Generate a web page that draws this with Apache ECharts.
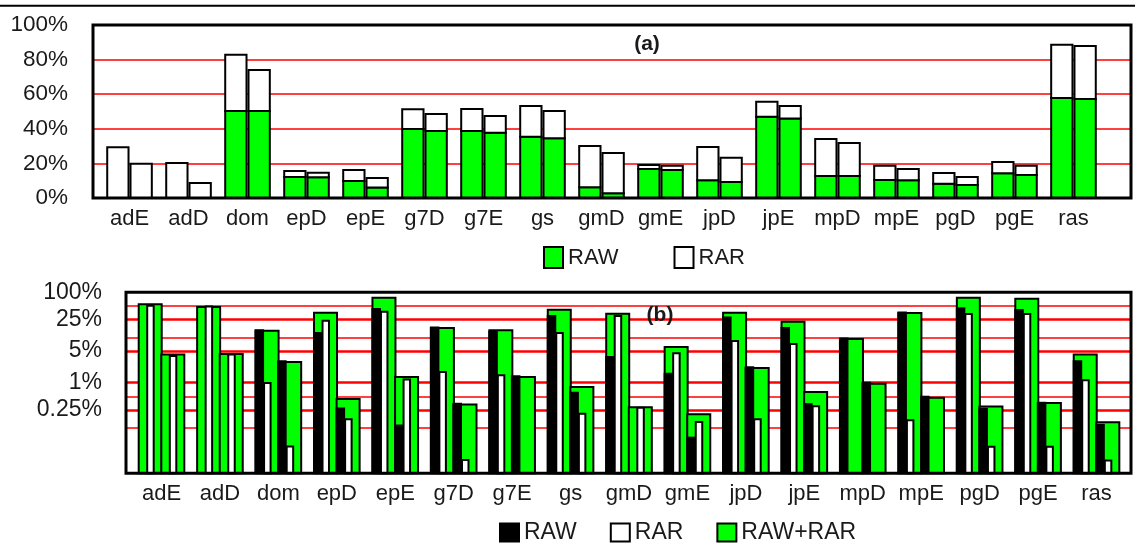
<!DOCTYPE html>
<html><head><meta charset="utf-8">
<script src="https://cdn.jsdelivr.net/npm/echarts@6/dist/echarts.min.js"></script>
<style>html,body{margin:0;padding:0;background:#fff}#c{width:1135px;height:546px}</style>
</head><body><div id="c"></div>
<script>
// ---------- data ----------
const categories = ['adE','adD','dom','epD','epE','g7D','g7E','gs','gmD','gmE','jpD','jpE','mpD','mpE','pgD','pgE','ras'];

// panel (a): stacked bars, two per benchmark (RAW part green, RAR part white, in %)
const rawA1 = [0, 0, 50.3, 12.1, 9.8, 39.9, 38.7, 35.4, 6.2, 16.8, 10.2, 47.0, 12.7, 10.4, 8.3, 14.3, 57.8];
const rarA1 = [29.3, 20.2, 32.5, 3.5, 6.4, 11.4, 12.7, 17.8, 23.8, 2.3, 19.3, 8.7, 21.4, 8.3, 6.2, 6.5, 30.8];
const rawA2 = [0, 0, 50.3, 12.0, 6.0, 38.7, 37.7, 34.5, 2.7, 16.2, 9.2, 46.0, 12.7, 10.3, 7.5, 13.3, 57.2];
const rarA2 = [19.8, 8.7, 23.7, 2.6, 5.6, 9.9, 9.7, 15.8, 23.3, 2.5, 14.1, 7.2, 19.1, 6.5, 4.6, 5.4, 30.7];
const ticksA = [0, 20, 40, 60, 80, 100];

// panel (b): log scale, two groups per benchmark (values in %)
const rawRarB1 = [53.9, 47.0, 14.0, 35.1, 75.5, 16.1, 14.5, 41.2, 33.3, 6.18, 35.1, 22.2, 9.2, 34.6, 75.5, 71.8, 4.19];
const rawB1    = [null, null, 14.5, 12.6, 42.4, 16.6, 13.3, 29.6, 3.71, 1.58, 27.7, 16.1, 9.5, 35.8, 44.0, 40.3, 2.97];
const rarB1    = [50.2, 48.6, 0.98, 23.3, 37.0, 1.72, 1.46, 12.6, 29.6, 4.48, 8.4, 7.2, null, 0.148, 32.8, 32.8, 1.13];
const rawRarB2 = [4.19, 4.32, 2.87, 0.434, 1.33, 0.331, 1.33, 0.80, 0.288, 0.201, 2.11, 0.62, 0.95, 0.466, 0.299, 0.355, 0.134];
const rawB2    = [null, null, 2.97, 0.27, 0.113, 0.342, 1.38, 0.60, null, 0.061, 2.19, 0.336, 1.0, 0.49, 0.265, 0.36, 0.117];
const rarB2    = [3.9, 4.19, 0.039, 0.156, 1.17, 0.0196, null, 0.206, 0.279, 0.136, 0.156, 0.303, null, null, 0.0386, 0.0386, 0.0192];
const tickLabelsB = [100, 25, 5, 1, 0.25];
const gridThickB = [25, 5, 1, 0.25];
const gridThinB = [50, 10, 0.5, 0.1];
const yMinB = 0.01, yMaxB = 100;

// ---------- styles ----------
const GREEN = '#00ff00';
const TXT = '#1a1a1a';
const FONT = '"Liberation Sans", Arial, Helvetica, sans-serif';
const catIdx = categories.map((_, i) => i);

// panel (a) bar renderer
function barA(side, part) {
  return function (params, api) {
    const k = api.value(0), raw = api.value(1), rar = api.value(2);
    const lo = part === 'raw' ? 0 : raw;
    const hi = part === 'raw' ? raw : raw + rar;
    if (!(hi > lo)) return null;
    const t = api.coord([k, hi]), b = api.coord([k, lo]);
    const w = 21.3, cx = t[0] + side * 11.65;
    return {
      type: 'rect',
      shape: { x: cx - w / 2, y: t[1], width: w, height: b[1] - t[1] },
      style: { fill: part === 'raw' ? GREEN : '#fff', stroke: '#000', lineWidth: 2 }
    };
  };
}

// panel (b) bar renderer
const groupLeftB = [-23.8, -1.2];
const kindB = {
  green: { dx: 0, w: 25, fill: GREEN, stroke: true },
  black: { dx: 0, w: 9.5, fill: '#000', stroke: false },
  white: { dx: 8.5, w: 8.5, fill: '#fff', stroke: true }
};
function barB(group, kind) {
  const K = kindB[kind];
  return function (params, api) {
    const k = api.value(0), v = api.value(1);
    if (v == null || isNaN(v) || v <= 0) return null;
    const t = api.coord([k, v]), b = api.coord([k, yMinB]);
    const left = t[0] + groupLeftB[group] + K.dx;
    const shape = K.stroke
      ? { x: left + 1, y: t[1], width: K.w - 2, height: b[1] - t[1] }
      : { x: left, y: t[1] - 1, width: K.w, height: b[1] - t[1] + 1 };
    return {
      type: 'rect', shape,
      style: { fill: K.fill, stroke: K.stroke ? '#000' : null, lineWidth: K.stroke ? 2 : 0 }
    };
  };
}

function seriesA(name, side, part, raw, rar) {
  return {
    type: 'custom', name, xAxisIndex: 0, yAxisIndex: 0, z: 3,
    renderItem: barA(side, part),
    encode: { x: 0, y: 1 },
    data: catIdx.map(i => [i, raw[i], rar[i]])
  };
}
function seriesB(name, group, kind, vals) {
  return {
    type: 'custom', name, xAxisIndex: 1, yAxisIndex: 1, z: 3,
    renderItem: barB(group, kind),
    encode: { x: 0, y: 1 },
    data: catIdx.map(i => [i, vals[i] == null ? NaN : vals[i]])
  };
}

const labelFmt = v => categories[Math.round(v)] || '';

const option = {
  animation: false,
  backgroundColor: '#fff',
  textStyle: { fontFamily: FONT },
  grid: [
    { left: 93, top: 25, width: 1038, height: 173, show: true, borderColor: '#000', borderWidth: 3, backgroundColor: 'rgba(0,0,0,0)', z: 10 },
    { left: 126, top: 292.2, width: 1005, height: 181, show: true, borderColor: '#000', borderWidth: 3, backgroundColor: 'rgba(0,0,0,0)', z: 10 }
  ],
  xAxis: [
    { gridIndex: 0, type: 'value', min: -0.619, max: 16.975,
      axisLine: { show: false }, axisTick: { show: false }, splitLine: { show: false },
      axisLabel: { customValues: catIdx, formatter: labelFmt, fontSize: 22, color: TXT, margin: 10, fontFamily: FONT } },
    { gridIndex: 1, type: 'value', min: -0.6075, max: 16.59,
      axisLine: { show: false }, axisTick: { show: false }, splitLine: { show: false },
      axisLabel: { customValues: catIdx, formatter: labelFmt, fontSize: 22, color: TXT, margin: 10, fontFamily: FONT } }
  ],
  yAxis: [
    { gridIndex: 0, type: 'value', min: ticksA[0], max: ticksA[ticksA.length - 1], interval: 20,
      axisLine: { show: false }, axisTick: { show: false },
      splitLine: { show: true, showMinLine: false, showMaxLine: false, lineStyle: { color: '#ff0000', width: 1.7 } },
      axisLabel: { formatter: '{value}%', fontSize: 22.5, color: TXT, margin: 25, fontFamily: FONT } },
    { gridIndex: 1, type: 'log', logBase: 10, min: yMinB, max: yMaxB,
      axisLine: { show: false }, axisTick: { show: false }, splitLine: { show: false },
      axisLabel: { show: false } }
  ],
  legend: [
    { left: 538, top: 241, icon: 'rect', itemWidth: 19, itemHeight: 21, itemGap: 55,
      textStyle: { fontSize: 22, color: TXT, fontFamily: FONT },
      data: [
        { name: 'RAW', itemStyle: { color: GREEN, borderColor: '#000', borderWidth: 2 } },
        { name: 'RAR', itemStyle: { color: '#fff', borderColor: '#000', borderWidth: 2 } }
      ] },
    { left: 494, top: 516, icon: 'rect', itemWidth: 19, itemHeight: 18, itemGap: 33,
      textStyle: { fontSize: 23, color: TXT, fontFamily: FONT },
      data: [
        { name: 'RAW', itemStyle: { color: '#000', borderColor: '#000', borderWidth: 2 } },
        { name: 'RAR', itemStyle: { color: '#fff', borderColor: '#000', borderWidth: 2 } },
        { name: 'RAW+RAR', itemStyle: { color: GREEN, borderColor: '#000', borderWidth: 2 } }
      ] }
  ],
  graphic: [
    { type: 'line', shape: { x1: 0, y1: 5.7, x2: 1135, y2: 5.7 }, style: { stroke: '#000', lineWidth: 2 }, silent: true },
    { type: 'text', x: 647, y: 44, style: { text: '(a)', font: 'bold 21px ' + FONT, fill: TXT, textAlign: 'center', textVerticalAlign: 'middle' }, z: 20 },
    { type: 'text', x: 660, y: 315, style: { text: '(b)', font: 'bold 21px ' + FONT, fill: TXT, textAlign: 'center', textVerticalAlign: 'middle' }, z: 20 }
  ],
  series: [
    seriesA('RAW', -1, 'raw', rawA1, rarA1),
    seriesA('RAR', -1, 'rar', rawA1, rarA1),
    seriesA('RAW', 1, 'raw', rawA2, rarA2),
    seriesA('RAR', 1, 'rar', rawA2, rarA2),
    {
      type: 'line', name: 'gridB', xAxisIndex: 1, yAxisIndex: 1, data: [], z: 1, silent: true,
      markLine: {
        silent: true, symbol: 'none', z: 1, animation: false,
        label: { show: false },
        data: [].concat(
          gridThickB.map(v => ({ yAxis: v, lineStyle: { color: '#ff0000', width: 2.6, type: 'solid' }, label: { show: false } })),
          gridThinB.map(v => ({ yAxis: v, lineStyle: { color: '#ff0000', width: 1.7, type: 'solid' }, label: { show: false } })),
          tickLabelsB.map(v => ({ yAxis: v, lineStyle: { color: 'rgba(0,0,0,0)', width: 0 },
            label: { show: true, position: 'start', distance: 24, formatter: v + '%', fontSize: 23, color: TXT, fontFamily: FONT } }))
        )
      }
    },
    seriesB('RAW+RAR', 0, 'green', rawRarB1),
    seriesB('RAW', 0, 'black', rawB1),
    seriesB('RAR', 0, 'white', rarB1),
    seriesB('RAW+RAR', 1, 'green', rawRarB2),
    seriesB('RAW', 1, 'black', rawB2),
    seriesB('RAR', 1, 'white', rarB2)
  ]
};

const chart = echarts.init(document.getElementById('c'), null, { renderer: 'canvas' });
chart.setOption(option);
</script>
</body></html>
